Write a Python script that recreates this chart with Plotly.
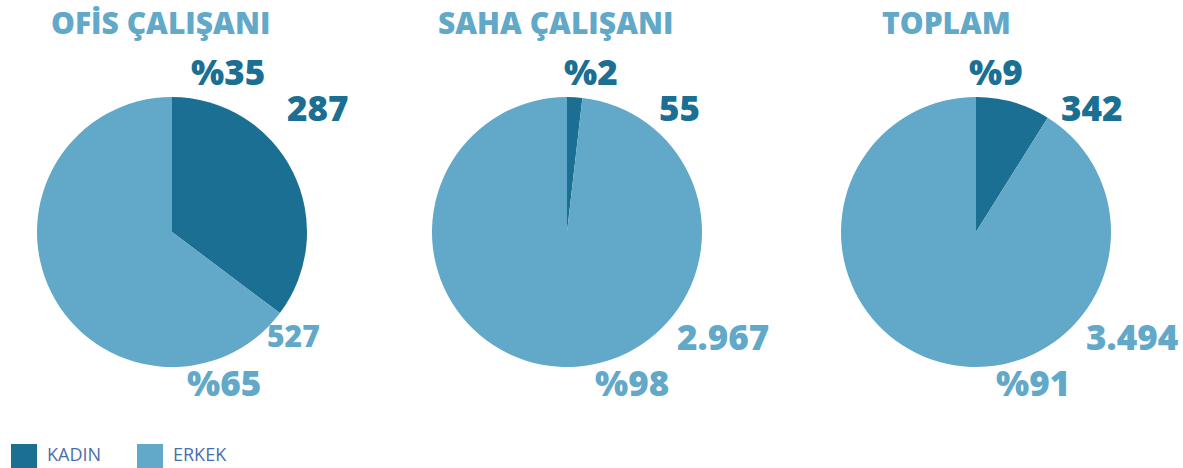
import plotly.graph_objects as go

categories = ["KADIN", "ERKEK"]
titles = ["OFİS ÇALIŞANI", "SAHA ÇALIŞANI", "TOPLAM"]
ofis = [287, 527]
saha = [55, 2967]
toplam = [342, 3494]
series = [ofis, saha, toplam]

colors = ["#1a6f93", "#62a8c8"]
legend_color = "#4a6eab"
FONT = "Open Sans"

W, H = 1183, 468


def px(x):
    return x / W


def py(y):
    return 1 - y / H


# pie pixel geometry: left, right, top, bottom
boxes = [(37, 307, 97, 367), (432, 702, 97, 367), (841, 1111, 97, 367)]
# label positions (caps centre): title, pct0, val0, val1, pct1
label_pos = [
    [(160, 25), (228, 75), (318, 111), (293, 338), (224, 386)],
    [(555, 25), (591, 75), (679, 111), (723, 340), (632, 386)],
    [(947, 25), (996, 75), (1092, 111), (1132, 340), (1033, 386)],
]


def fmt(v):
    return f"{v:,}".replace(",", ".")


fig = go.Figure()
ann = []
for i, (vals, (l, r, t, b)) in enumerate(zip(series, boxes)):
    fig.add_trace(go.Pie(
        labels=categories, values=vals, sort=False, direction="clockwise",
        rotation=0, marker=dict(colors=colors, line=dict(width=0)),
        textinfo="none", hoverinfo="label+value+percent",
        domain=dict(x=[px(l), px(r)], y=[py(b), py(t)]),
        showlegend=False,
    ))
    tot = sum(vals)
    p0 = round(vals[0] / tot * 100)
    p1 = 100 - p0
    texts = [titles[i], f"%{p0}", fmt(vals[0]), fmt(vals[1]), f"%{p1}"]
    sizes = [30, 35, 35, 30 if i == 0 else 35, 35]
    cols = [colors[1], colors[0], colors[0], colors[1], colors[1]]
    for txt, (x, y), sz, col in zip(texts, label_pos[i], sizes, cols):
        ann.append(dict(text=txt, x=px(x), y=py(y - sz * 0.1), xref="paper", yref="paper",
                        xanchor="center", yanchor="middle", showarrow=False,
                        font=dict(family=FONT, size=sz, color=col, weight=800)))

# legend (swatches + labels)
shapes = []
legend_items = [(11, 45), (137, 171)]
for cat, col, (sx, tx) in zip(categories, colors, legend_items):
    shapes.append(dict(type="rect", xref="paper", yref="paper",
                       x0=px(sx), x1=px(sx + 26), y0=py(468), y1=py(444),
                       fillcolor=col, line=dict(width=0)))
    ann.append(dict(text=cat, x=px(tx), y=py(456 - 1.8), xref="paper", yref="paper",
                    xanchor="left", yanchor="middle", showarrow=False,
                    font=dict(family=FONT, size=18, color=legend_color)))

fig.update_layout(
    width=W, height=H, margin=dict(l=0, r=0, t=0, b=0),
    paper_bgcolor="white", plot_bgcolor="white",
    annotations=ann, shapes=shapes, showlegend=False,
)
fig.write_html("out.html", config={"displayModeBar": False},
               post_script="document.body.style.margin='0';")
